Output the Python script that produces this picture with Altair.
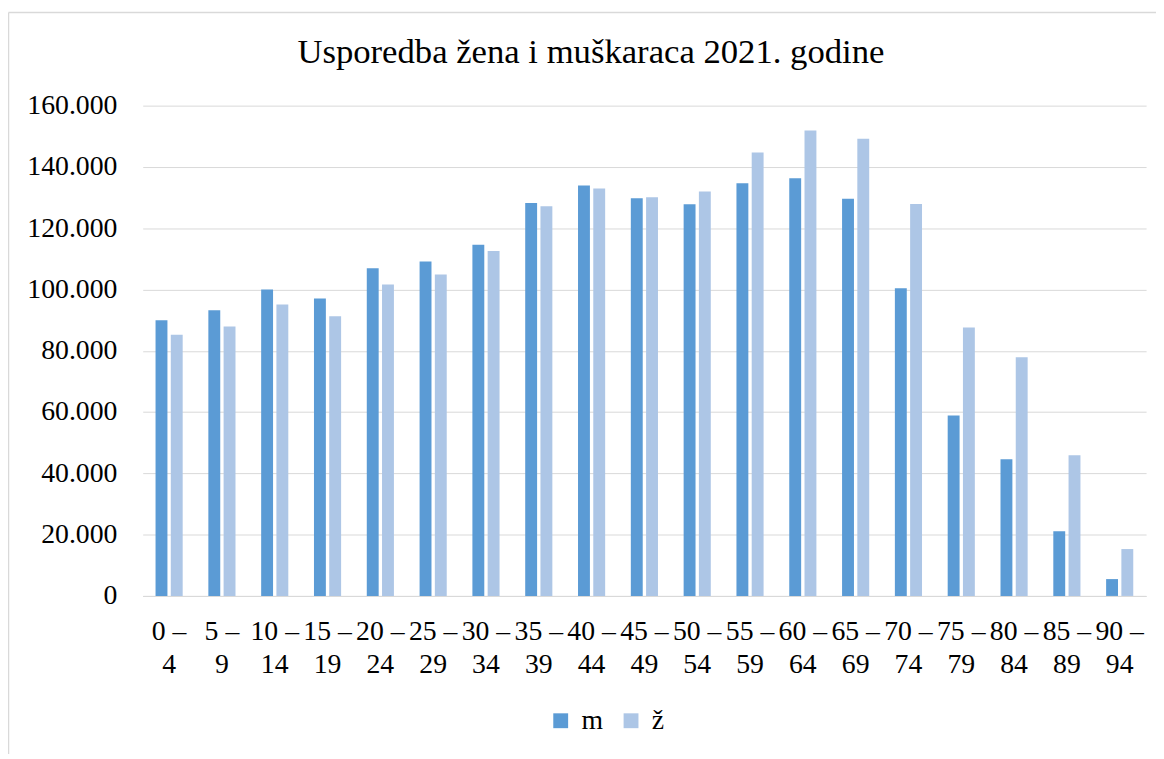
import altair as alt
import pandas as pd

categories = ["0 – 4", "5 – 9", "10 – 14", "15 – 19", "20 – 24", "25 – 29", "30 – 34",
              "35 – 39", "40 – 44", "45 – 49", "50 – 54", "55 – 59", "60 – 64", "65 – 69",
              "70 – 74", "75 – 79", "80 – 84", "85 – 89", "90 – 94"]
m_values = [90000, 93200, 100000, 97100, 106900, 109100, 114600, 128200, 133900, 129800,
            127800, 134700, 136300, 129600, 100400, 58900, 44600, 21100, 5500]
z_values = [85200, 87900, 95100, 91300, 101600, 104900, 112600, 127200, 133000, 130100,
            132000, 144700, 151900, 149200, 127900, 87600, 77900, 45900, 15300]
series = ["m", "ž"]
colors = ["#5b9bd5", "#adc6e6"]

rows = []
for c, mv, zv in zip(categories, m_values, z_values):
    rows.append({"dob": c, "spol": "m", "broj": mv})
    rows.append({"dob": c, "spol": "ž", "broj": zv})
df = pd.DataFrame(rows)

FONT = "Liberation Serif"

bars = alt.Chart(df).mark_bar().encode(
    x=alt.X("dob:N", sort=categories, title=None,
            scale=alt.Scale(paddingInner=0.486, paddingOuter=0.243),
            axis=alt.Axis(labelAngle=0, labelFontSize=28, labelFont=FONT, labelColor="#000000",
                          labelPadding=22, labelLineHeight=33, ticks=False,
                          domainColor="#d9d9d9", domainWidth=1,
                          labelExpr="[split(datum.label, ' – ')[0] + ' –', split(datum.label, ' – ')[1]]")),
    xOffset=alt.XOffset("spol:N", sort=series, scale=alt.Scale(paddingInner=0.22, paddingOuter=0)),
    y=alt.Y("broj:Q", title=None,
            scale=alt.Scale(domain=[0, 160000]),
            axis=alt.Axis(values=[0, 20000, 40000, 60000, 80000, 100000, 120000, 140000, 160000],
                          labelFontSize=28, labelFont=FONT, labelColor="#000000",
                          labelPadding=26, ticks=False, domain=False,
                          gridColor="#d9d9d9", gridWidth=1,
                          labelExpr="replace(format(datum.value, ','), ',', '.')")),
    color=alt.Color("spol:N", sort=series, scale=alt.Scale(domain=series, range=colors),
                    legend=alt.Legend(title=None, orient="none", direction="horizontal",
                                      legendX=408, legendY=607, padding=0,
                                      labelFont=FONT, labelFontSize=28, labelColor="#000000",
                                      symbolType="square", symbolSize=225, symbolStrokeWidth=0,
                                      labelOffset=7, columnPadding=14)),
)

border_df = pd.DataFrame({"k": [0]})
left_border = alt.Chart(border_df).mark_rule(color="#d9d9d9", strokeWidth=1.5).encode(
    x=alt.value(-135.5), y=alt.value(-94), y2=alt.value(660))
top_border = alt.Chart(border_df).mark_rule(color="#d9d9d9", strokeWidth=1.5).encode(
    x=alt.value(-135.5), x2=alt.value(1030), y=alt.value(-94))

chart = alt.layer(bars, left_border, top_border).properties(
    width=1013, height=495,
    title=alt.TitleParams("Usporedba žena i muškaraca 2021. godine", font=FONT, fontSize=35,
                          fontWeight="normal", color="#000000", anchor="middle", frame="group",
                          dx=-54, offset=0, dy=87, baseline="alphabetic"),
    autosize=alt.AutoSizeParams(type="none"),
    padding={"left": 136, "top": 95, "right": 10, "bottom": 156},
).configure_view(stroke=None)

chart.save("out.html", embed_options={"renderer": "svg", "actions": False})
